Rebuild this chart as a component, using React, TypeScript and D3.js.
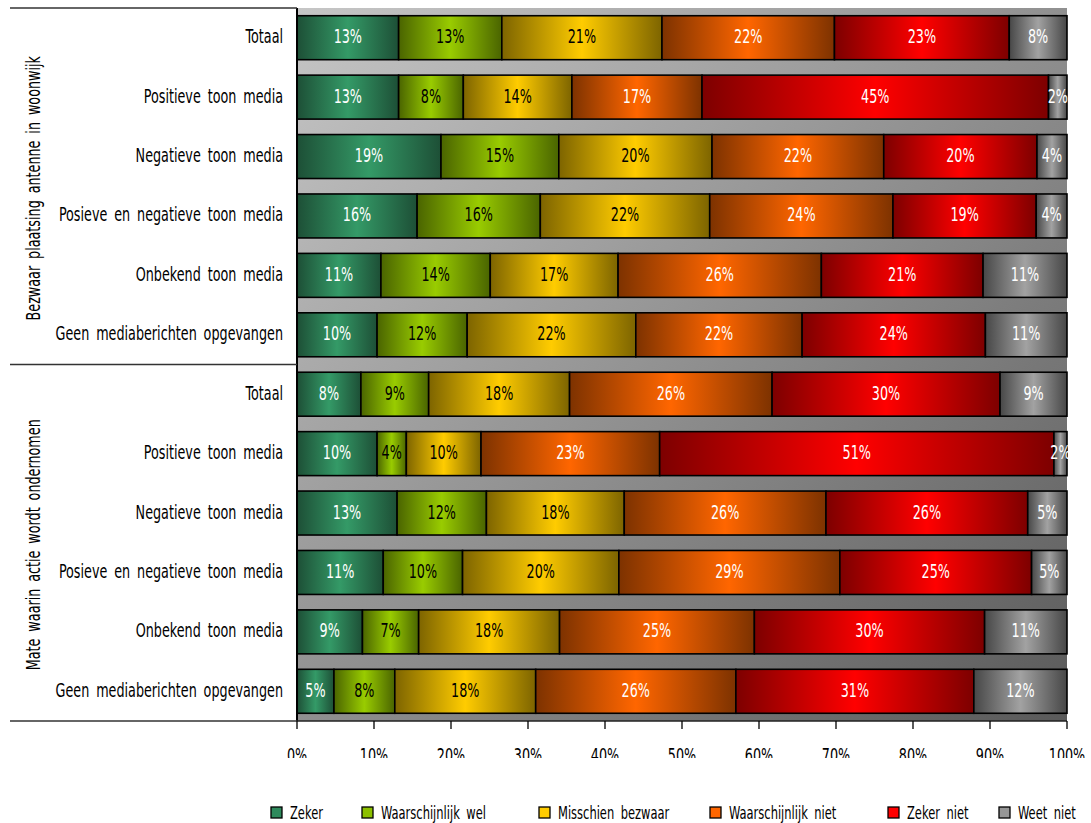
import React from "react";
import * as d3 from "d3";

const groups = ["Bezwaar plaatsing antenne in woonwijk", "Mate waarin actie wordt ondernomen"];
const categories = [
  "Totaal",
  "Positieve toon media",
  "Negatieve toon media",
  "Posieve en negatieve toon media",
  "Onbekend toon media",
  "Geen mediaberichten opgevangen",
];
const seriesNames = ["Zeker", "Waarschijnlijk wel", "Misschien bezwaar", "Waarschijnlijk niet", "Zeker niet", "Weet niet"];

// values per category, order of seriesNames (percent)
const bezwaarValues = [
  [13.2, 13.4, 20.8, 22.4, 22.7, 7.5],
  [13.2, 8.4, 14.1, 16.9, 45.0, 2.4],
  [18.7, 15.3, 19.9, 22.3, 19.9, 3.9],
  [15.6, 16.0, 22.0, 23.8, 18.6, 4.0],
  [10.9, 14.2, 16.6, 26.4, 21.0, 10.9],
  [10.4, 11.7, 21.9, 21.6, 23.8, 10.6],
];
const actieValues = [
  [8.3, 8.8, 18.3, 26.3, 29.6, 8.7],
  [10.4, 3.8, 9.7, 23.2, 51.2, 1.7],
  [13.0, 11.6, 17.9, 26.2, 26.2, 5.1],
  [11.2, 10.3, 20.3, 28.7, 24.9, 4.6],
  [8.5, 7.3, 18.3, 25.3, 29.9, 10.7],
  [4.8, 7.9, 18.3, 26.0, 30.9, 12.1],
];
const xTicks = [0, 10, 20, 30, 40, 50, 60, 70, 80, 90, 100];

const edgeColors = ["#1d4f36", "#4a6400", "#7d6400", "#7d3200", "#7d0000", "#474747"];
const midColors = ["#349a67", "#99cc00", "#ffcc00", "#ff6600", "#ff0000", "#a2a2a2"];
const legendColors = ["#2e8a5c", "#8cc000", "#ffcc00", "#ff6600", "#ff0000", "#969696"];
const labelColors = ["#ffffff", "#000000", "#000000", "#ffffff", "#ffffff", "#ffffff"];
const legendX = [271, 362, 539, 710, 888, 999];

const FONT = "'DejaVu Sans Condensed', 'DejaVu Sans', sans-serif";
const SX = 0.71; // horizontal squeeze to mimic a condensed face

export default function App() {
  const W = 1091, H = 823;
  const left = 297, right = 1067, top = 8, bottom = 721;

  const rows: any[] = [];
  const allValues = [bezwaarValues, actieValues];
  groups.forEach((g, gi) => {
    categories.forEach((c, ci) => {
      const r: any = { id: `${gi}|${ci}`, group: g, cat: c };
      seriesNames.forEach((s, si) => (r[s] = allValues[gi][ci][si]));
      rows.push(r);
    });
  });

  const x = d3.scaleLinear().domain([0, 100]).range([left, right]);
  const y = d3
    .scaleBand<string>()
    .domain(rows.map((r) => r.id))
    .range([top, bottom])
    .paddingInner(0.26)
    .paddingOuter(0.13);
  const stacked = d3.stack<any>().keys(seriesNames)(rows);
  const step = y.step();
  const bw = y.bandwidth();

  return (
    <svg width={W} height={H} style={{ position: "absolute", left: 0, top: 0, background: "#fff" }} fontFamily={FONT}>
      <defs>
        <linearGradient id="plotBg" x1="0" y1="0" x2="1" y2="1">
          <stop offset="0" stopColor="#c6c6c6" />
          <stop offset="1" stopColor="#5a5a5a" />
        </linearGradient>
        {seriesNames.map((s, i) => (
          <linearGradient key={s} id={`g${i}`} x1="0" y1="0" x2="1" y2="0">
            <stop offset="0" stopColor={edgeColors[i]} />
            <stop offset="0.5" stopColor={midColors[i]} />
            <stop offset="1" stopColor={edgeColors[i]} />
          </linearGradient>
        ))}
        <clipPath id="tickClip">
          <rect x={0} y={730} width={W} height={28} />
        </clipPath>
      </defs>

      <rect x={left} y={top} width={right - left} height={bottom - top} fill="url(#plotBg)" />

      {stacked.map((layer, si) => (
        <g key={layer.key}>
          {layer.map((d: any) => {
            const x0 = x(d[0]);
            const x1 = x(d[1]);
            const yy = y(d.data.id)!;
            const v = d.data[layer.key];
            return (
              <g key={d.data.id}>
                <rect
                  x={x0}
                  y={yy}
                  width={x1 - x0}
                  height={bw}
                  fill={`url(#g${si})`}
                  stroke="#000"
                  strokeWidth={1.6}
                />
                <text
                  transform={`translate(${(x0 + x1) / 2},${yy + bw / 2 + 5.5}) scale(${SX},1)`}
                  textAnchor="middle"
                  fontSize={20}
                  fill={labelColors[si]}
                >
                  {`${Math.round(v)}%`}
                </text>
              </g>
            );
          })}
        </g>
      ))}

      {/* axes */}
      <line x1={left} x2={left} y1={top} y2={bottom} stroke="#000" strokeWidth={2} />
      <line x1={left} x2={right} y1={bottom} y2={bottom} stroke="#222" strokeWidth={1.5} />
      {[0, 6, 12].map((k) => (
        <line key={k} x1={10} x2={left} y1={top + k * step} y2={top + k * step} stroke="#333" strokeWidth={1.3} />
      ))}

      {rows.map((r) => (
        <text
          key={r.id}
          transform={`translate(283,${y(r.id)! + bw / 2 + 5.5}) scale(${SX},1)`}
          textAnchor="end"
          fontSize={20}
          wordSpacing={4}
          fill="#000"
        >
          {r.cat}
        </text>
      ))}

      {groups.map((g, gi) => {
        const cy = top + (gi * 6 + 3) * step;
        return (
          <text
            key={g}
            transform={`translate(40,${cy + 2}) rotate(-90) scale(${SX},1)`}
            textAnchor="middle"
            fontSize={20}
            wordSpacing={4}
            fill="#000"
          >
            {g}
          </text>
        );
      })}

      {xTicks.map((t) => (
        <line key={t} x1={x(t)} x2={x(t)} y1={bottom} y2={bottom + 8} stroke="#000" strokeWidth={1.3} />
      ))}
      <g clipPath="url(#tickClip)">
        {xTicks.map((t) => (
          <text
            key={t}
            transform={`translate(${x(t)},762) scale(${SX},1)`}
            textAnchor="middle"
            fontSize={20}
            fill="#000"
          >
            {`${t}%`}
          </text>
        ))}
      </g>

      {seriesNames.map((s, i) => (
        <g key={s} transform={`translate(${legendX[i]},807)`}>
          <rect x={0} y={0} width={11} height={11} fill={legendColors[i]} stroke="#000" strokeWidth={1.3} />
          <text transform={`translate(19,12) scale(${SX},1)`} fontSize={18} wordSpacing={4} fill="#000">
            {s}
          </text>
        </g>
      ))}
    </svg>
  );
}
